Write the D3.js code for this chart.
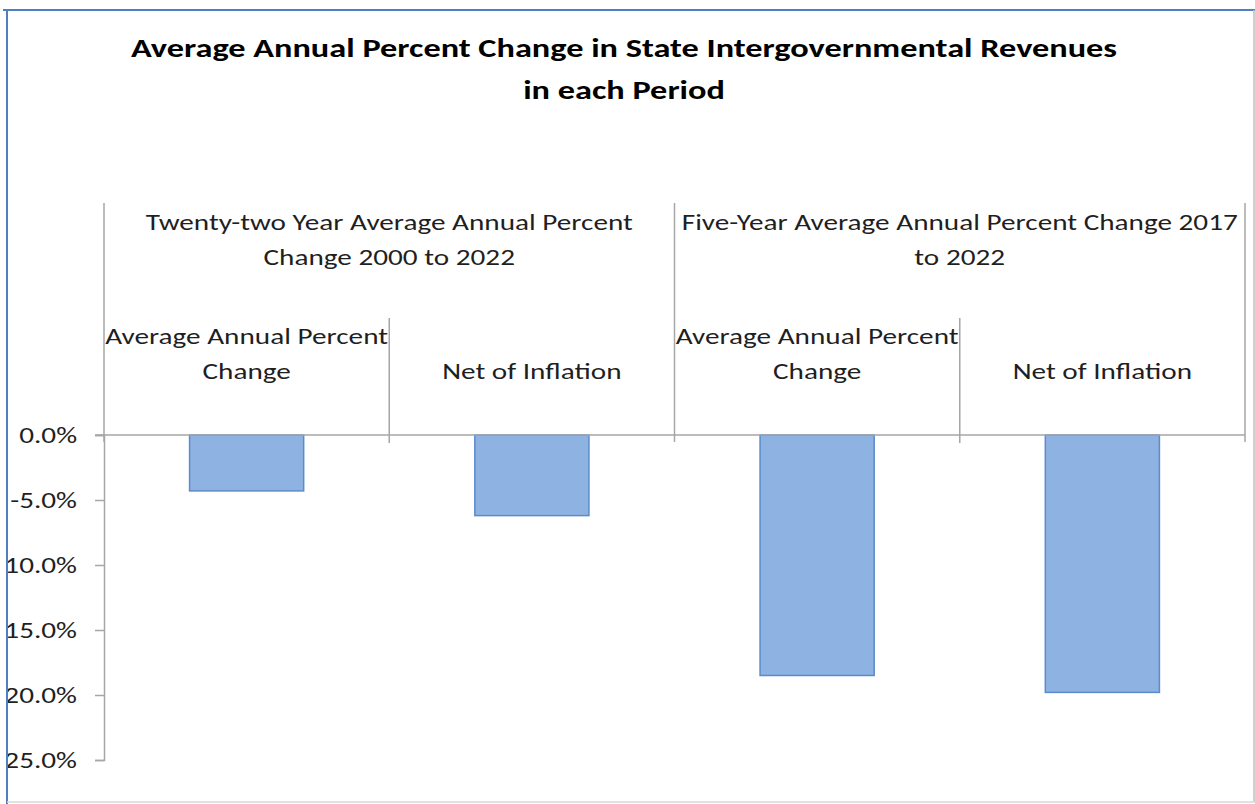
<!DOCTYPE html>
<html>
<head>
<meta charset="utf-8">
<script src="https://cdn.jsdelivr.net/npm/d3@7"></script>
<style>
  html, body { margin: 0; padding: 0; background: #fff; }
  svg { display: block; }
  text { font-family: Carlito, Calibri, Lato, "Liberation Sans", sans-serif; }
</style>
</head>
<body>
<svg id="chart" width="1255" height="804"></svg>
<script>
// Chart content
const titleLines = [
  "Average Annual Percent Change in State Intergovernmental Revenues",
  "in each Period"
];
const groupLabels = [
  ["Twenty-two Year Average Annual Percent", "Change 2000 to 2022"],
  ["Five-Year Average Annual Percent Change 2017", "to 2022"]
];
const subLabels = [
  ["Average Annual Percent", "Change"],
  ["Net of Inflation"],
  ["Average Annual Percent", "Change"],
  ["Net of Inflation"]
];
const groupOfBar = [0, 0, 1, 1];
const values = [-4.3, -6.2, -18.5, -19.8];
const yTicks = [0, -5, -10, -15, -20, -25];

const W = 1255, H = 804;
const plot = { left: 104, right: 1245, top: 435, bottom: 760 };
const STRETCH = 1.27;          // horizontal widening of the lettering
const FONT = "Carlito, Calibri, Lato, 'Liberation Sans', sans-serif";
const textCol = "#1f1f1f";

const svg = d3.select("#chart");

// Widen a text element horizontally while keeping it real text
function widen(sel) {
  sel.each(function () {
    const len = this.getComputedTextLength();
    if (len > 0) {
      d3.select(this).attr("textLength", len * STRETCH).attr("lengthAdjust", "spacingAndGlyphs");
    }
  });
}

// Plain hyphen for negative numbers
const locale = d3.formatLocale({ decimal: ".", thousands: ",", grouping: [3], currency: ["$", ""], minus: "-" });
const pct = v => locale.format(".1f")(v) + "%";

// The chart frame crops anything running past its left edge
svg.append("defs").append("clipPath").attr("id", "frameClip")
  .append("rect").attr("x", 8).attr("y", 11).attr("width", W - 10).attr("height", H - 13);

const g = svg.append("g").attr("clip-path", "url(#frameClip)");

const idx = d3.range(values.length);
const x = d3.scaleBand().domain(idx).range([plot.left, plot.right]).paddingInner(0).paddingOuter(0);
const y = d3.scaleLinear().domain([-25, 0]).range([plot.bottom, plot.top]);

// Title
g.append("g").selectAll("text").data(titleLines).join("text")
  .attr("x", 624).attr("y", (d, i) => 57 + i * 42)
  .attr("text-anchor", "middle")
  .attr("font-size", 27).attr("font-weight", "bold").attr("fill", "#000")
  .text(d => d)
  .call(widen);

// Bars
const barW = x.bandwidth() * 0.4;
g.append("g").selectAll("rect").data(idx).join("rect")
  .attr("x", i => x(i) + (x.bandwidth() - barW) / 2)
  .attr("y", y(0))
  .attr("width", barW)
  .attr("height", i => y(values[i]) - y(0))
  .attr("fill", "#8eb3e2")
  .attr("stroke", "#5a8bcb")
  .attr("stroke-width", 1.5);

// Value axis
const axisCol = "#a6a6a6";
const yAxis = d3.axisLeft(y).tickValues(yTicks).tickSize(9).tickPadding(18).tickFormat(pct);
const ya = g.append("g").attr("transform", `translate(${plot.left},0)`).call(yAxis);
ya.select(".domain").attr("stroke", axisCol).attr("stroke-width", 1.5);
ya.selectAll(".tick line").attr("stroke", axisCol).attr("stroke-width", 1.5);
ya.selectAll(".tick text").attr("font-size", 23).attr("fill", textCol)
  .attr("font-family", FONT).call(widen);

// Category axis line at zero
g.append("line")
  .attr("x1", plot.left - 9).attr("x2", plot.right)
  .attr("y1", y(0)).attr("y2", y(0))
  .attr("stroke", axisCol).attr("stroke-width", 1.5);

// Group separators (outer) and sub-category separators (inner)
const groupEdges = [0, 2, 4].map(k => k < idx.length ? x(k) : plot.right);
g.append("g").selectAll("line").data(groupEdges).join("line")
  .attr("x1", d => d).attr("x2", d => d)
  .attr("y1", 203).attr("y2", y(0) + 7)
  .attr("stroke", axisCol).attr("stroke-width", 1.5);
const subEdges = [1, 3].map(k => x(k));
g.append("g").selectAll("line").data(subEdges).join("line")
  .attr("x1", d => d).attr("x2", d => d)
  .attr("y1", 318).attr("y2", y(0) + 8)
  .attr("stroke", axisCol).attr("stroke-width", 1.5);

// Sub-category labels, bottom-aligned in their cell
const subRows = idx.flatMap(i => subLabels[i].map((t, j) => ({
  t, cx: x(i) + x.bandwidth() / 2, row: subLabels[i].length - 1 - j
})));
g.append("g").selectAll("text").data(subRows).join("text")
  .attr("x", d => d.cx).attr("y", d => 379 - d.row * 35)
  .attr("text-anchor", "middle").attr("font-size", 23).attr("fill", textCol)
  .text(d => d.t)
  .call(widen);

// Group labels, top-aligned
const groupRows = groupLabels.flatMap((lines, gi) => {
  const members = idx.filter(i => groupOfBar[i] === gi);
  const cx = (x(members[0]) + x(members[members.length - 1]) + x.bandwidth()) / 2;
  return lines.map((t, j) => ({ t, cx, row: j }));
});
g.append("g").selectAll("text").data(groupRows).join("text")
  .attr("x", d => d.cx).attr("y", d => 230 + d.row * 35)
  .attr("text-anchor", "middle").attr("font-size", 23).attr("fill", textCol)
  .text(d => d.t)
  .call(widen);

// Frame edges
svg.append("line").attr("x1", 3).attr("x2", W).attr("y1", 10).attr("y2", 10)
  .attr("stroke", "#4f7fc0").attr("stroke-width", 2);
svg.append("line").attr("x1", 7).attr("x2", 7).attr("y1", 10).attr("y2", H)
  .attr("stroke", "#4f7fc0").attr("stroke-width", 2);
svg.append("line").attr("x1", W - 1).attr("x2", W - 1).attr("y1", 10).attr("y2", H - 2)
  .attr("stroke", "#bfbfbf").attr("stroke-width", 1.5);
svg.append("line").attr("x1", 7).attr("x2", W).attr("y1", H - 2).attr("y2", H - 2)
  .attr("stroke", "#d9d9d9").attr("stroke-width", 1.5);
</script>
</body>
</html>
